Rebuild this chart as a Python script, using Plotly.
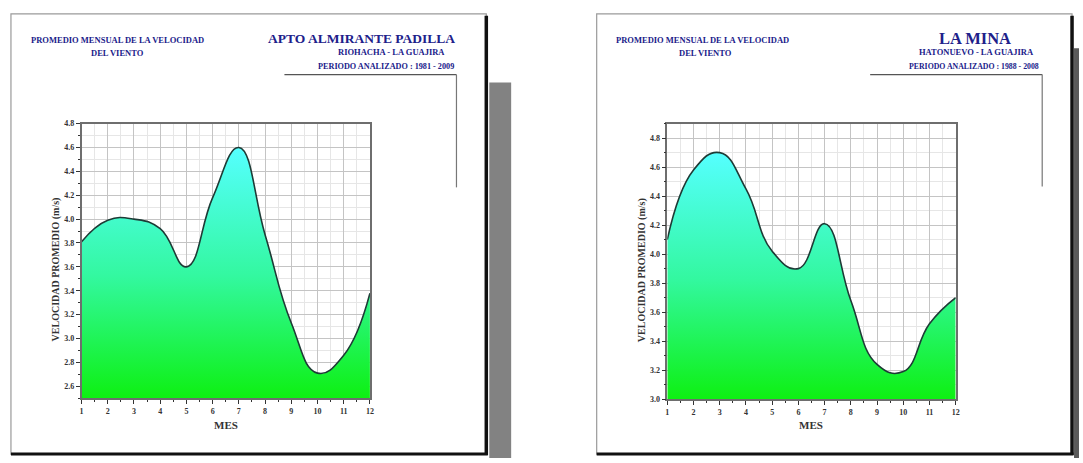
import plotly.graph_objects as go

W, H = 1083, 463

# Monthly mean wind speed (m/s)
months = list(range(1, 13))
padilla_speed = [3.81, 3.99, 4.00, 3.92, 3.60, 4.18, 4.60, 3.87, 3.13, 2.71, 2.86, 3.38]
mina_speed = [4.10, 4.58, 4.70, 4.45, 4.02, 3.90, 4.21, 3.68, 3.24, 3.19, 3.52, 3.70]

padilla_range = [2.5, 4.8]
mina_range = [3.0, 4.9]

SERIF = "Liberation Serif"
NAVY = "#20208a"


def px(x):
    return x / W


def py(y):
    return 1 - y / H


fig = go.Figure()

panels = [
    dict(x="x", y="y", vals=padilla_speed, rng=padilla_range,
         xdom=[px(80), px(370)], ydom=[py(402), py(122)]),
    dict(x="x2", y="y2", vals=mina_speed, rng=mina_range,
         xdom=[px(669), px(959)], ydom=[py(403), py(122)]),
]

for p in panels:
    fig.add_trace(go.Scatter(
        x=months, y=p["vals"], xaxis=p["x"], yaxis=p["y"],
        mode="lines", line=dict(shape="spline", smoothing=1.3, color="#1e3b36", width=1.6),
        fill="tozeroy",
        fillgradient=dict(type="vertical", start=p["rng"][0], stop=max(p["vals"]),
                          colorscale=[[0, "#0cf00c"], [0.5, "#33f8a0"], [1, "#55ffff"]]),
        hoverinfo="skip", showlegend=False,
    ))

axis_common = dict(
    showline=True, mirror=True, linecolor="#6e6e6e", linewidth=1.5,
    showgrid=True, gridcolor="#c4c4c4", gridwidth=1,
    ticks="outside", ticklen=4, tickcolor="#333333", zeroline=False,
    tickfont=dict(family=SERIF, size=8, color="#333333", weight="bold"),
)

for i, p in enumerate(panels):
    sfx = "" if i == 0 else "2"
    fig.update_layout(**{
        f"xaxis{sfx}": dict(axis_common, domain=p["xdom"], range=[1, 12], dtick=1, tick0=1,
                           anchor=p["y"],
                           minor=dict(dtick=0.5, showgrid=True, gridcolor="#e6e6e6",
                                      ticks="outside", ticklen=2, tickcolor="#333333")),
        f"yaxis{sfx}": dict(axis_common, domain=p["ydom"], range=p["rng"], dtick=0.2, tick0=0,
                           tickformat=".1f", anchor=p["x"],
                           minor=dict(dtick=0.1, showgrid=True, gridcolor="#e6e6e6",
                                      ticks="outside", ticklen=2, tickcolor="#333333")),
    })

shapes = []
# Page sheets with shadows
pages = [
    dict(x0=9, y0=10, x1=487, y1=459, shadow=(490, 80, 512, 463, "#828282")),
    dict(x0=598, y0=10, x1=1076, y1=459, shadow=(1078, 45, 1083, 463, "#5a5a5a")),
]
for pg in pages:
    sx0, sy0, sx1, sy1, sc = pg["shadow"]
    shapes.append(dict(type="rect", xref="paper", yref="paper", layer="below",
                       x0=px(sx0), x1=px(sx1), y0=py(sy1), y1=py(sy0),
                       fillcolor=sc, line=dict(width=0)))
    shapes.append(dict(type="rect", xref="paper", yref="paper", layer="below",
                       x0=px(pg["x0"]), x1=px(pg["x1"]), y0=py(pg["y1"]), y1=py(pg["y0"]),
                       fillcolor="white", line=dict(color="#9a9a9a", width=1.2)))
    shapes.append(dict(type="line", xref="paper", yref="paper", layer="below",
                       x0=px(pg["x1"]), x1=px(pg["x1"]), y0=py(pg["y1"] + 1), y1=py(pg["y0"] + 2),
                       line=dict(color="#111111", width=3.5)))
    shapes.append(dict(type="line", xref="paper", yref="paper", layer="below",
                       x0=px(pg["x0"]), x1=px(pg["x1"] + 1.5), y0=py(pg["y1"]), y1=py(pg["y1"]),
                       line=dict(color="#111111", width=3)))

# Header bracket lines
for (lx0, lx1, ybot) in [(284, 457, 187), (873, 1046, 186)]:
    shapes.append(dict(type="line", xref="paper", yref="paper",
                       x0=px(lx0), x1=px(lx1), y0=py(72), y1=py(72),
                       line=dict(color="#555555", width=1.2)))
    shapes.append(dict(type="line", xref="paper", yref="paper",
                       x0=px(lx1), x1=px(lx1), y0=py(72), y1=py(ybot),
                       line=dict(color="#777777", width=1.2)))

fig.update_layout(shapes=shapes)

ann = []


def text(x, y, s, size, color=NAVY, xanchor="center", angle=0):
    ann.append(dict(x=px(x), y=py(y), xref="paper", yref="paper", text=s, showarrow=False,
                    xanchor=xanchor, yanchor="middle", textangle=angle,
                    font=dict(family=SERIF, size=size, color=color, weight="bold")))


# Left sheet headers
text(116, 37, "PROMEDIO MENSUAL DE LA VELOCIDAD", 8.5)
text(116, 50, "DEL VIENTO", 8.5)
text(362, 35, "APTO ALMIRANTE PADILLA", 13.5)
text(447, 49, "RIOHACHA - LA GUAJIRA", 8.5, xanchor="right")
text(457, 64, "PERIODO ANALIZADO : 1981 - 2009", 8.2, xanchor="right")

# Right sheet headers
text(704, 37, "PROMEDIO MENSUAL DE LA VELOCIDAD", 8.5)
text(707, 50, "DEL VIENTO", 8.5)
text(978, 35, "LA MINA", 16.5)
text(1040, 49, "HATONUEVO - LA GUAJIRA", 8.5, xanchor="right")
text(1045, 64, "PERIODO ANALIZADO : 1988 - 2008", 7.8, xanchor="right")

# Axis titles
text(54, 271, "VELOCIDAD PROMEDIO (m/s)", 10, color="#333333", angle=-90)
text(225, 429, "MES", 11, color="#333333")
text(643, 271, "VELOCIDAD PROMEDIO (m/s)", 10, color="#333333", angle=-90)
text(814, 429, "MES", 11, color="#333333")

fig.update_layout(
    annotations=ann,
    width=W, height=H,
    margin=dict(l=0, r=0, t=0, b=0),
    paper_bgcolor="white", plot_bgcolor="white",
    showlegend=False,
)

fig.write_html("out.html")
